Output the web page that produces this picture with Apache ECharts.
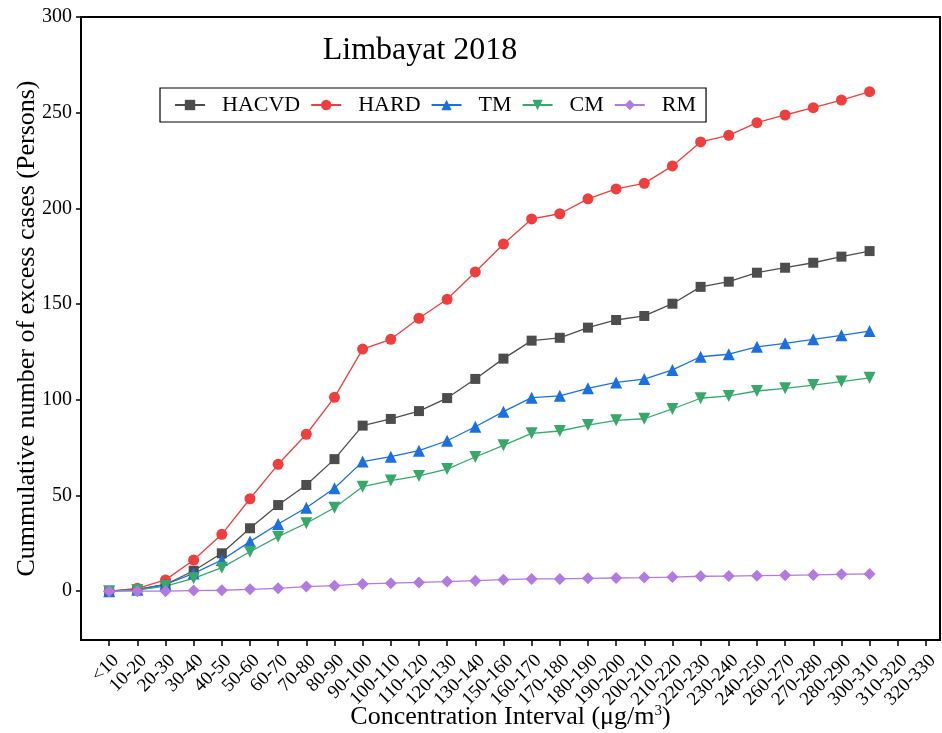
<!DOCTYPE html>
<html>
<head>
<meta charset="utf-8">
<script src="https://cdn.jsdelivr.net/npm/echarts@6/dist/echarts.min.js"></script>
<style>html,body{margin:0;padding:0;background:#fff}#c{width:942px;height:733px}</style>
</head>
<body>
<div id="c"></div>
<script>
var categories = ['<10','10-20','20-30','30-40','40-50','50-60','60-70','70-80','80-90','90-100',
  '100-110','110-120','120-130','130-140','150-160','160-170','170-180','180-190','190-200','200-210',
  '210-220','220-230','230-240','240-250','260-270','270-280','280-290','300-310','310-320','320-330'];
var HACVD = [0,1,3.5,10.7,19.8,32.9,45,55.5,69,86.5,90,94.1,100.9,110.9,121.5,130.9,132.4,137.7,141.7,143.8,150.2,159,161.7,166.4,169,171.6,174.8,177.7];
var HARD  = [0,1.5,5.9,16.3,29.7,48.3,66.3,82,101.3,126.5,131.6,142.6,152.5,166.8,181.4,194.5,197.2,205,210.2,213.1,222.2,234.7,238.2,244.8,248.8,252.6,256.6,261];
var TM    = [0,0.8,3.5,9.3,16.3,25.9,35.1,43.6,53.8,67.7,70.3,73.4,78.6,85.9,93.8,101.1,102.1,106,109.1,110.8,115.6,122.5,123.8,127.7,129.5,131.6,133.7,135.9];
var CM    = [0,0.6,2.7,6.7,12.3,20.6,28.5,35.5,43.6,54.6,57.8,60.2,63.8,70.1,76.2,82.5,83.7,86.8,89.3,90.1,95.2,100.8,102,104.6,106,107.7,109.5,111.5];
var RM    = [0,0,0,0.3,0.5,1,1.5,2.4,2.9,3.8,4.2,4.6,5.0,5.5,6.0,6.4,6.4,6.7,6.9,7.1,7.4,7.8,7.9,8.1,8.3,8.5,8.8,9];
var yTicks = [0,50,100,150,200,250,300];

function pairs(arr){ return arr.map(function(v,i){ return [i,v]; }); }
var xIdx = categories.map(function(c,i){ return i; });
var F = '"Liberation Serif","Times New Roman",serif';

var specs = [
  {name:'HACVD', data:HACVD, color:'#4d4d4d', symbol:'rect', size:10},
  {name:'HARD', data:HARD, color:'#ef3e3e', symbol:'circle', size:11},
  {name:'TM', data:TM, color:'#1b6fe0', symbol:'triangle', size:12},
  {name:'CM', data:CM, color:'#37a86a', symbol:'path://M0,0 L10,0 L5,9 Z', size:12},
  {name:'RM', data:RM, color:'#b07ae0', symbol:'diamond', size:12}
];

var chart = echarts.init(document.getElementById('c'), null, {renderer:'canvas'});
chart.setOption({
  backgroundColor:'#fff',
  animation:false,
  title:{
    text:'Limbayat 2018', left:415, top:30, textAlign:'center',
    textStyle:{fontFamily:F, fontSize:32, fontWeight:'normal', color:'#000'}
  },
  legend:{
    left:160, top:88, orient:'horizontal',
    borderColor:'#000', borderWidth:1.2, padding:[6,10,6,14],
    itemWidth:30, itemHeight:13, itemGap:10,
    textStyle:{fontFamily:F, fontSize:22, color:'#000', padding:[0,0,0,12]},
    data:specs.map(function(s){return s.name;})
  },
  grid:{left:81, right:2, top:17, bottom:93, show:true, borderColor:'#000', borderWidth:2,
    containLabel:false, outerBoundsMode:'none'},
  xAxis:{
    type:'value', min:-1, max:29.5,
    name:'{a|Concentration Interval (μg/m}{s|3}{a|)}',
    nameLocation:'middle', nameGap:64, nameMoveOverlap:false,
    nameTextStyle:{rich:{
      a:{fontFamily:F, fontSize:26, color:'#000'},
      s:{fontFamily:F, fontSize:15, color:'#000', verticalAlign:'bottom', padding:[0,0,12,0]}
    }},
    axisLine:{onZero:false, lineStyle:{color:'#000', width:2}},
    axisTick:{show:true, length:6, lineStyle:{color:'#000', width:1.5}, customValues:xIdx},
    axisLabel:{customValues:xIdx, rotate:45, margin:11, verticalAlign:'top',
      fontFamily:F, fontSize:19, color:'#000',
      formatter:function(v){ var i=Math.round(v); return categories[i]||''; }},
    splitLine:{show:false}
  },
  yAxis:{
    type:'value', min:-25.5, max:300,
    name:'Cummulative number of excess cases (Persons)',
    nameLocation:'middle', nameGap:41, nameMoveOverlap:false,
    nameTextStyle:{fontFamily:F, fontSize:26, color:'#000'},
    axisLine:{show:true, onZero:false, lineStyle:{color:'#000', width:2}},
    axisTick:{show:true, length:5, lineStyle:{color:'#000', width:1.5}, customValues:yTicks},
    axisLabel:{customValues:yTicks, margin:9, fontFamily:F, fontSize:20, color:'#000'},
    splitLine:{show:false}
  },
  series:specs.map(function(s){
    return {
      name:s.name, type:'line', data:pairs(s.data),
      symbol:s.symbol, symbolSize:s.size, showSymbol:true,
      lineStyle:{color:s.color, width:1.3},
      itemStyle:{color:s.color},
      emphasis:{disabled:true}
    };
  })
});
</script>
</body>
</html>
